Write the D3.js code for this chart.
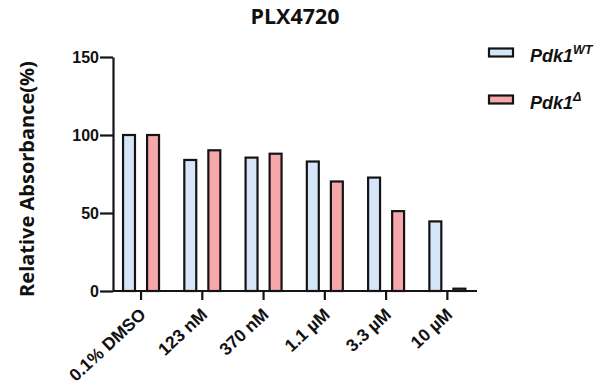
<!DOCTYPE html>
<html>
<head>
<meta charset="utf-8">
<script src="https://cdn.jsdelivr.net/npm/d3@7"></script>
<style>
  html, body { margin: 0; padding: 0; background: #fff; }
  svg { display: block; }
</style>
</head>
<body>
<svg id="chart" width="614" height="389"></svg>
<script>
const categories = ["0.1% DMSO", "123 nM", "370 nM", "1.1 \u00b5M", "3.3 \u00b5M", "10 \u00b5M"];
const seriesNames = ["WT", "Delta"];
const wtValues = [100, 84, 85.5, 83, 72.7, 44.6];
const deltaValues = [100, 90.2, 88, 70.2, 51.2, 1.5];
const yTicks = [0, 50, 100, 150];
const colors = { WT: "#d6e6f9", Delta: "#f6a7aa" };
const stroke = "#141414";

const svg = d3.select("#chart");

const yAxisX = 113, xAxisEnd = 477;
const y = d3.scaleLinear().domain([0, 150]).range([291, 57]);
const x0 = d3.scaleBand().domain(categories).range([110.4, 478]).paddingInner(0.38).paddingOuter(0.19);
const x1 = d3.scaleBand().domain(seriesNames).range([0, x0.bandwidth()]).paddingInner(0.42);

const data = categories.map((c, i) => ({ cat: c, WT: wtValues[i], Delta: deltaValues[i] }));

// bars
const groups = svg.append("g").selectAll("g").data(data).join("g")
  .attr("transform", d => `translate(${x0(d.cat)},0)`);
groups.selectAll("rect").data(d => seriesNames.map(k => ({ key: k, value: d[k] }))).join("rect")
  .attr("x", d => x1(d.key) + 1)
  .attr("width", x1.bandwidth() - 2)
  .attr("y", d => y(d.value))
  .attr("height", d => y(0) - y(d.value))
  .attr("fill", d => colors[d.key])
  .attr("stroke", stroke)
  .attr("stroke-width", 2.2);

// y axis
const yAxis = svg.append("g").attr("transform", `translate(${yAxisX},0)`)
  .call(d3.axisLeft(y).tickValues(yTicks).tickSize(13).tickPadding(1).tickSizeOuter(0));
yAxis.select(".domain").attr("stroke", stroke).attr("stroke-width", 2.2);
yAxis.selectAll(".tick line").attr("stroke", stroke).attr("stroke-width", 2.2);
yAxis.selectAll(".tick text")
  .attr("font-family", "Liberation Sans, Arial, sans-serif")
  .attr("font-weight", "bold").attr("font-size", 16).attr("fill", "#111");

// x axis
const xAxis = svg.append("g").attr("transform", `translate(0,${y(0)})`)
  .call(d3.axisBottom(x0).tickSize(9).tickPadding(0));
xAxis.select(".domain").remove();
xAxis.append("line").attr("x1", yAxisX).attr("x2", xAxisEnd).attr("y1", 0).attr("y2", 0)
  .attr("stroke", stroke).attr("stroke-width", 2.2);
xAxis.selectAll(".tick line").attr("stroke", stroke).attr("stroke-width", 2.2);
xAxis.selectAll(".tick text")
  .attr("font-family", "Liberation Sans, Arial, sans-serif")
  .attr("font-weight", "bold").attr("font-size", 17.5).attr("fill", "#111")
  .attr("text-anchor", "end")
  .attr("dy", null)
  .attr("transform", "translate(6,25) rotate(-43)")
  .attr("y", 0).attr("x", 0);

// title
svg.append("text").attr("x", 295).attr("y", 24).attr("text-anchor", "middle")
  .attr("font-family", "Open Sans, sans-serif").attr("font-weight", "bold")
  .attr("font-size", 21.5).attr("fill", "#111").text("PLX4720");

// y label
svg.append("text").attr("transform", "translate(34,179) rotate(-90)").attr("text-anchor", "middle")
  .attr("font-family", "Open Sans, sans-serif").attr("font-weight", "bold")
  .attr("font-size", 20).attr("fill", "#111").text("Relative Absorbance(%)");

// legend
const legend = svg.append("g");
const legendRows = [
  { key: "WT", sup: "WT", y: 48.5 },
  { key: "Delta", sup: "\u0394", y: 95.5 }
];
legendRows.forEach(r => {
  legend.append("rect").attr("x", 489).attr("y", r.y).attr("width", 24).attr("height", 8)
    .attr("fill", colors[r.key]).attr("stroke", stroke).attr("stroke-width", 2.2);
  const t = legend.append("text").attr("x", 530).attr("y", r.y + 13)
    .attr("font-family", "Liberation Sans, Arial, sans-serif").attr("font-weight", "bold")
    .attr("font-style", "italic").attr("font-size", 18).attr("fill", "#111");
  t.append("tspan").text("Pdk1");
  t.append("tspan").attr("dy", -8).attr("font-size", 12.5).text(r.sup);
});
</script>
</body>
</html>
